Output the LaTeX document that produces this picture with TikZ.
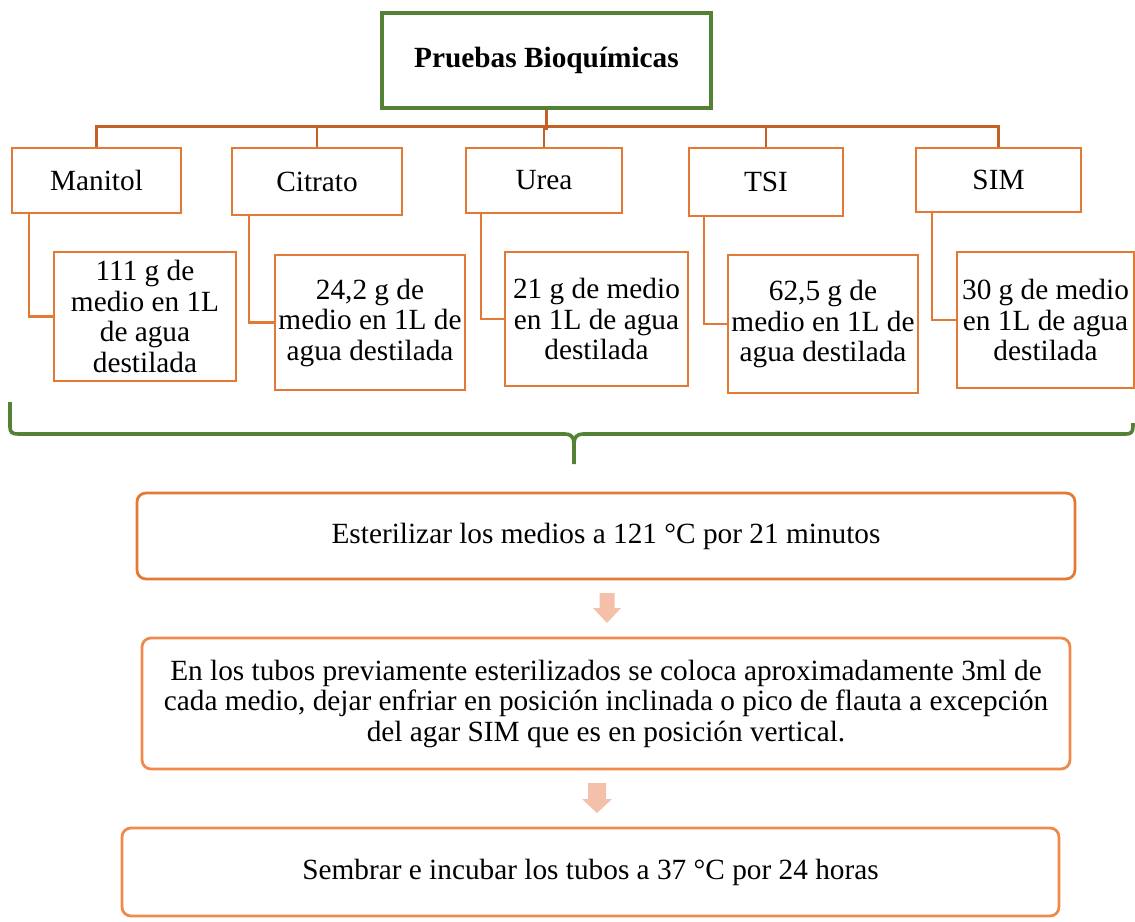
\documentclass[tikz,border=0pt]{standalone}
\usepackage{fontspec}
\setmainfont{Liberation Serif}
\definecolor{grn}{RGB}{84,130,53}
\definecolor{org}{RGB}{226,121,52}
\definecolor{orgdk}{RGB}{197,95,35}
\definecolor{orglt}{RGB}{240,138,76}
\definecolor{arrfill}{RGB}{244,192,170}
\begin{document}
\begin{tikzpicture}[x=1pt,y=-1pt,
  every node/.style={font=\fontsize{29.3}{30.5}\selectfont, inner sep=0pt, align=center},
  titlebox/.style={draw=grn, line width=3.6pt},
  catbox/.style={draw=org, line width=2.8pt},
  subbox/.style={draw=org, line width=2.8pt},
  stepbox/.style={line width=2.8pt, rounded corners=9pt},
  bus/.style={draw=orgdk, line width=2.5pt},
  link/.style={draw=org, line width=2.5pt},
  brace/.style={draw=grn, line width=3.6pt},
  flow/.style={fill=arrfill}]
\useasboundingbox (0,0) rectangle (1135,921);

% title
\node[titlebox, minimum width=329pt, minimum height=95pt,
      font=\fontsize{29.3}{30.5}\selectfont\bfseries] (title) at (546.5,60.5) {Pruebas Bioquímicas};

% categories
\node[catbox, minimum width=169pt, minimum height=65pt] (man) at (96.5,180.5) {Manitol};
\node[catbox, minimum width=170pt, minimum height=67pt] (cit) at (317,181.5) {Citrato};
\node[catbox, minimum width=156pt, minimum height=65pt] (ure) at (544,180.5) {Urea};
\node[catbox, minimum width=154pt, minimum height=68pt] (tsi) at (766,182) {TSI};
\node[catbox, minimum width=165pt, minimum height=64pt] (sim) at (998.5,180) {SIM};

% bus connectors
\draw[bus] (title.south) -- ++(0,20);
\draw[bus] (man.north) -- ++(0,-20) -| (sim.north);
\draw[bus] (cit.north) -- ++(0,-20);
\draw[bus] (ure.north) -- ++(0,-20);
\draw[bus] (tsi.north) -- ++(0,-20);

% sub boxes
\node[subbox, minimum width=182pt, minimum height=129pt] (msub) at (145,316.5)
  {111 g de\\medio en 1L\\de agua\\destilada};
\node[subbox, minimum width=190pt, minimum height=135pt] (csub) at (370,322.5)
  {24,2 g de\\medio en 1L de\\agua destilada};
\node[subbox, minimum width=183pt, minimum height=134pt] (usub) at (596.5,319)
  {21 g de medio\\en 1L de agua\\destilada};
\node[subbox, minimum width=190pt, minimum height=138pt] (tsub) at (823,324)
  {62,5 g de\\medio en 1L de\\agua destilada};
\node[subbox, minimum width=177pt, minimum height=136pt] (ssub) at (1045.5,320)
  {30 g de medio\\en 1L de agua\\destilada};

\draw[link] ([xshift=-67.5pt]man.south) |- (msub.west);
\draw[link] ([xshift=-68pt]cit.south) |- (csub.west);
\draw[link] ([xshift=-63pt]ure.south) |- (usub.west);
\draw[link] ([xshift=-62pt]tsi.south) |- (tsub.west);
\draw[link] ([xshift=-66.5pt]sim.south) |- (ssub.west);

% brace
\draw[brace] (10,402) -- (10,427) .. controls (10,432) and (12,434) .. (18,434)
  -- (565,434) .. controls (571,434) and (574,437) .. (574,444) -- (574,464);
\draw[brace] (574,444) .. controls (574,437) and (577,434) .. (583,434)
  -- (1126,434) .. controls (1131,434) and (1133,432) .. (1133,426) -- (1133,423);

% steps
\node[stepbox, draw=org, minimum width=938pt, minimum height=86pt] (s1) at (606,536)
  {Esterilizar los medios a 121 °C por 21 minutos};
\node[stepbox, draw=orglt, minimum width=928pt, minimum height=131pt] (s2) at (606,703.5)
  {En los tubos previamente esterilizados se coloca aproximadamente 3ml de\\
   cada medio, dejar enfriar en posición inclinada o pico de flauta a excepción\\
   del agar SIM que es en posición vertical.};
\node[stepbox, draw=orglt, minimum width=937pt, minimum height=88pt] (s3) at (590.5,872)
  {Sembrar e incubar los tubos a 37 °C por 24 horas};

% block arrows
\fill[flow, shift={(607,593)}] (-7.5,0) -- (7.5,0) -- (7.5,15) -- (14,15) -- (0,30)
  -- (-14,15) -- (-7.5,15) -- cycle;
\fill[flow, shift={(597,783)}] (-9,0) -- (9,0) -- (9,16) -- (15,16) -- (0,30)
  -- (-15,16) -- (-9,16) -- cycle;
\end{tikzpicture}
\end{document}
